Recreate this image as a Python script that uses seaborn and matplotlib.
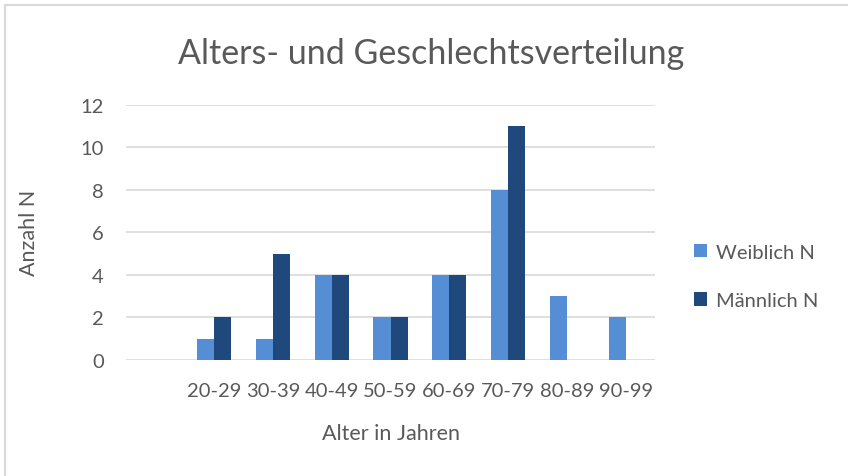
import pandas as pd
import matplotlib.pyplot as plt
import seaborn as sns
from matplotlib.patches import Rectangle

# Data
age_groups = [' ', '20-29', '30-39', '40-49', '50-59', '60-69', '70-79', '80-89', '90-99']
weiblich = [0, 1, 1, 4, 2, 4, 8, 3, 2]
maennlich = [0, 2, 5, 4, 2, 4, 11, 0, 0]
series_names = ['Weiblich N', 'Männlich N']
series_colors = ['#558ED5', '#1F497D']

df = pd.DataFrame({
    'Alter': age_groups * 2,
    'Anzahl': weiblich + maennlich,
    'Gruppe': [series_names[0]] * len(age_groups) + [series_names[1]] * len(age_groups),
})

sns.set_style('white')
plt.rcParams['font.family'] = ['Lato', 'DejaVu Sans']
text_color = '#595959'

fig = plt.figure(figsize=(8.48, 4.77), dpi=100)
ax = fig.add_axes([0.1486, 0.2432, 0.6238, 0.5352])

sns.barplot(data=df, x='Alter', y='Anzahl', hue='Gruppe', order=age_groups,
            palette=series_colors, saturation=1, width=0.58, linewidth=0, ax=ax)

ax.set_ylim(0, 12)
ax.set_yticks(range(0, 13, 2))
ax.yaxis.grid(True, color='#D9D9D9', linewidth=1.2)
ax.set_axisbelow(True)
for s in ax.spines.values():
    s.set_visible(False)
ax.tick_params(axis='both', length=0, labelsize=14.5, colors=text_color)
ax.tick_params(axis='y', pad=16)
ax.tick_params(axis='x', pad=16)

ax.set_xlabel('Alter in Jahren', fontsize=15.5, color=text_color, labelpad=17)
ax.set_ylabel('Anzahl N', fontsize=15.5, color=text_color, labelpad=30)
ax.set_title('Alters- und Geschlechtsverteilung', fontsize=24.5, color=text_color, pad=30, x=0.577)

ax.legend(loc='center left', bbox_to_anchor=(1.04, 0.328), frameon=False,
          fontsize=14.5, labelcolor=text_color, handlelength=0.65, handleheight=0.65,
          handletextpad=0.45, labelspacing=1.55)

# chart border (cropped on the right and bottom)
fig.patches.append(Rectangle((5 / 848, -0.1), 1.2, 1 - 6 / 477 + 0.1, transform=fig.transFigure,
                             fill=False, edgecolor='#D9D9D9', linewidth=1.5))

fig.savefig('out.png', dpi=100)
